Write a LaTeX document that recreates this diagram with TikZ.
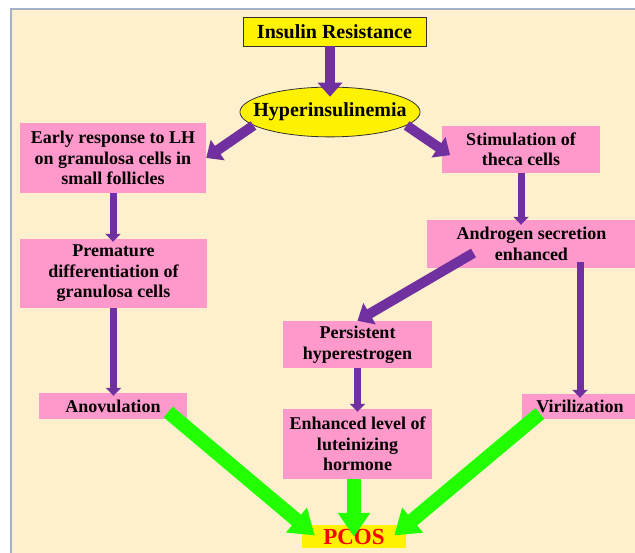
\documentclass[tikz,border=0pt]{standalone}
\usepackage{fontspec}
\setmainfont{Liberation Serif}
\usetikzlibrary{arrows.meta,shapes,calc}
\definecolor{beige}{HTML}{FEF0CD}
\definecolor{pinkfill}{HTML}{FF99CC}
\definecolor{purplearrow}{HTML}{7030A0}
\definecolor{greenarrow}{HTML}{22FF00}
\definecolor{frameblue}{HTML}{A4B0C8}
\tikzstyle{stage}=[fill=pinkfill,align=center,inner sep=0pt,font=\bfseries\fontsize{18}{20.5}\selectfont]
\tikzstyle{keybox}=[fill=yellow,draw=black!80,line width=0.8pt,align=center,inner sep=0pt,font=\bfseries\fontsize{20}{22}\selectfont]
\tikzstyle{thinedge}=[draw=purplearrow,line width=7pt,-{Triangle[width=15pt,length=8pt]}]
\tikzstyle{wideedge}=[draw=purplearrow,line width=10pt,-{Triangle[width=24pt,length=14pt]}]
\tikzstyle{greenedge}=[draw=greenarrow,line width=14pt,-{Triangle[width=31pt,length=24pt]}]

\begin{document}
\begin{tikzpicture}[x=1pt,y=-1pt]
    % Draw the page with its frame
    \useasboundingbox (0,0) rectangle (635,553);
    \fill[white] (0,0) rectangle (635,553);
    \filldraw[fill=beige,draw=frameblue,line width=2pt] (11,9) rectangle (660,580);

    % First we draw the boxes
    \node[keybox,minimum width=183pt,minimum height=29pt] (ir) at (334.5,31.5) {Insulin Resistance};
    \node[keybox,ellipse,inner xsep=-13pt,inner ysep=8.5pt] (hyper) at (330,112) {Hyperinsulinemia};
    \node[stage,minimum width=186pt,minimum height=70pt] (early) at (113,158) {Early response to LH\\on granulosa cells in\\small follicles};
    \node[stage,minimum width=158pt,minimum height=47pt] (stim) at (521,149.5) {Stimulation of\\theca cells};
    \node[stage,minimum width=187pt,minimum height=69pt] (prem) at (113.5,273.5) {Premature\\differentiation of\\granulosa cells};
    \node[stage,minimum width=209pt,minimum height=48pt] (andro) at (531.5,244) {Androgen secretion\\enhanced};
    \node[stage,minimum width=149pt,minimum height=47pt] (pers) at (357.5,344.5) {Persistent\\hyperestrogen};
    \node[stage,minimum width=148pt,minimum height=26pt] (anov) at (113,406) {Anovulation};
    \node[stage,minimum width=149pt,minimum height=70pt] (enh) at (357.5,444) {Enhanced level of\\luteinizing\\hormone};
    \node[stage,minimum width=116pt,minimum height=25pt] (viril) at (580,406.5) {Virilization};
    \node[fill=yellow,inner sep=0pt,minimum width=104pt,minimum height=23pt,text=red,font=\bfseries\fontsize{23}{25}\selectfont] (pcos) at (354,536.5) {PCOS};

    % Connect boxes with purple arrows
    \path[wideedge,shorten >=-10pt] (ir.south -| hyper.north) -- (hyper.north);
    \path[wideedge] (hyper.190) -- (early.east);
    \path[wideedge,shorten >=-10pt] (hyper.-10) -- (stim.west);
    \foreach \source/\dest in {early/prem, prem/anov, pers/enh}
        \path[thinedge,shorten >=-3pt] (\source.south) -- (\source.south |- \dest.north);
    \path[thinedge,shorten >=-5pt] (stim.south) -- (stim.south |- andro.north);
    \path[wideedge] ($(andro.center)+(-58,9)$) -- (pers.north);
    \path[thinedge,shorten >=-4pt] ($(andro.south -| viril.north)+(0,-6)$) -- (viril.north);

    % Green arrows into PCOS
    \path[greenedge] ($(anov.east)+(-19,6)$) -- ($(pcos.west)+(13,-1)$);
    \path[greenedge,shorten >=-12pt] (enh.south -| pcos.north) -- (pcos.north);
    \path[greenedge] ($(viril.west)+(18,7)$) -- ($(pcos.east)+(-12,-1)$);
\end{tikzpicture}
\end{document}
